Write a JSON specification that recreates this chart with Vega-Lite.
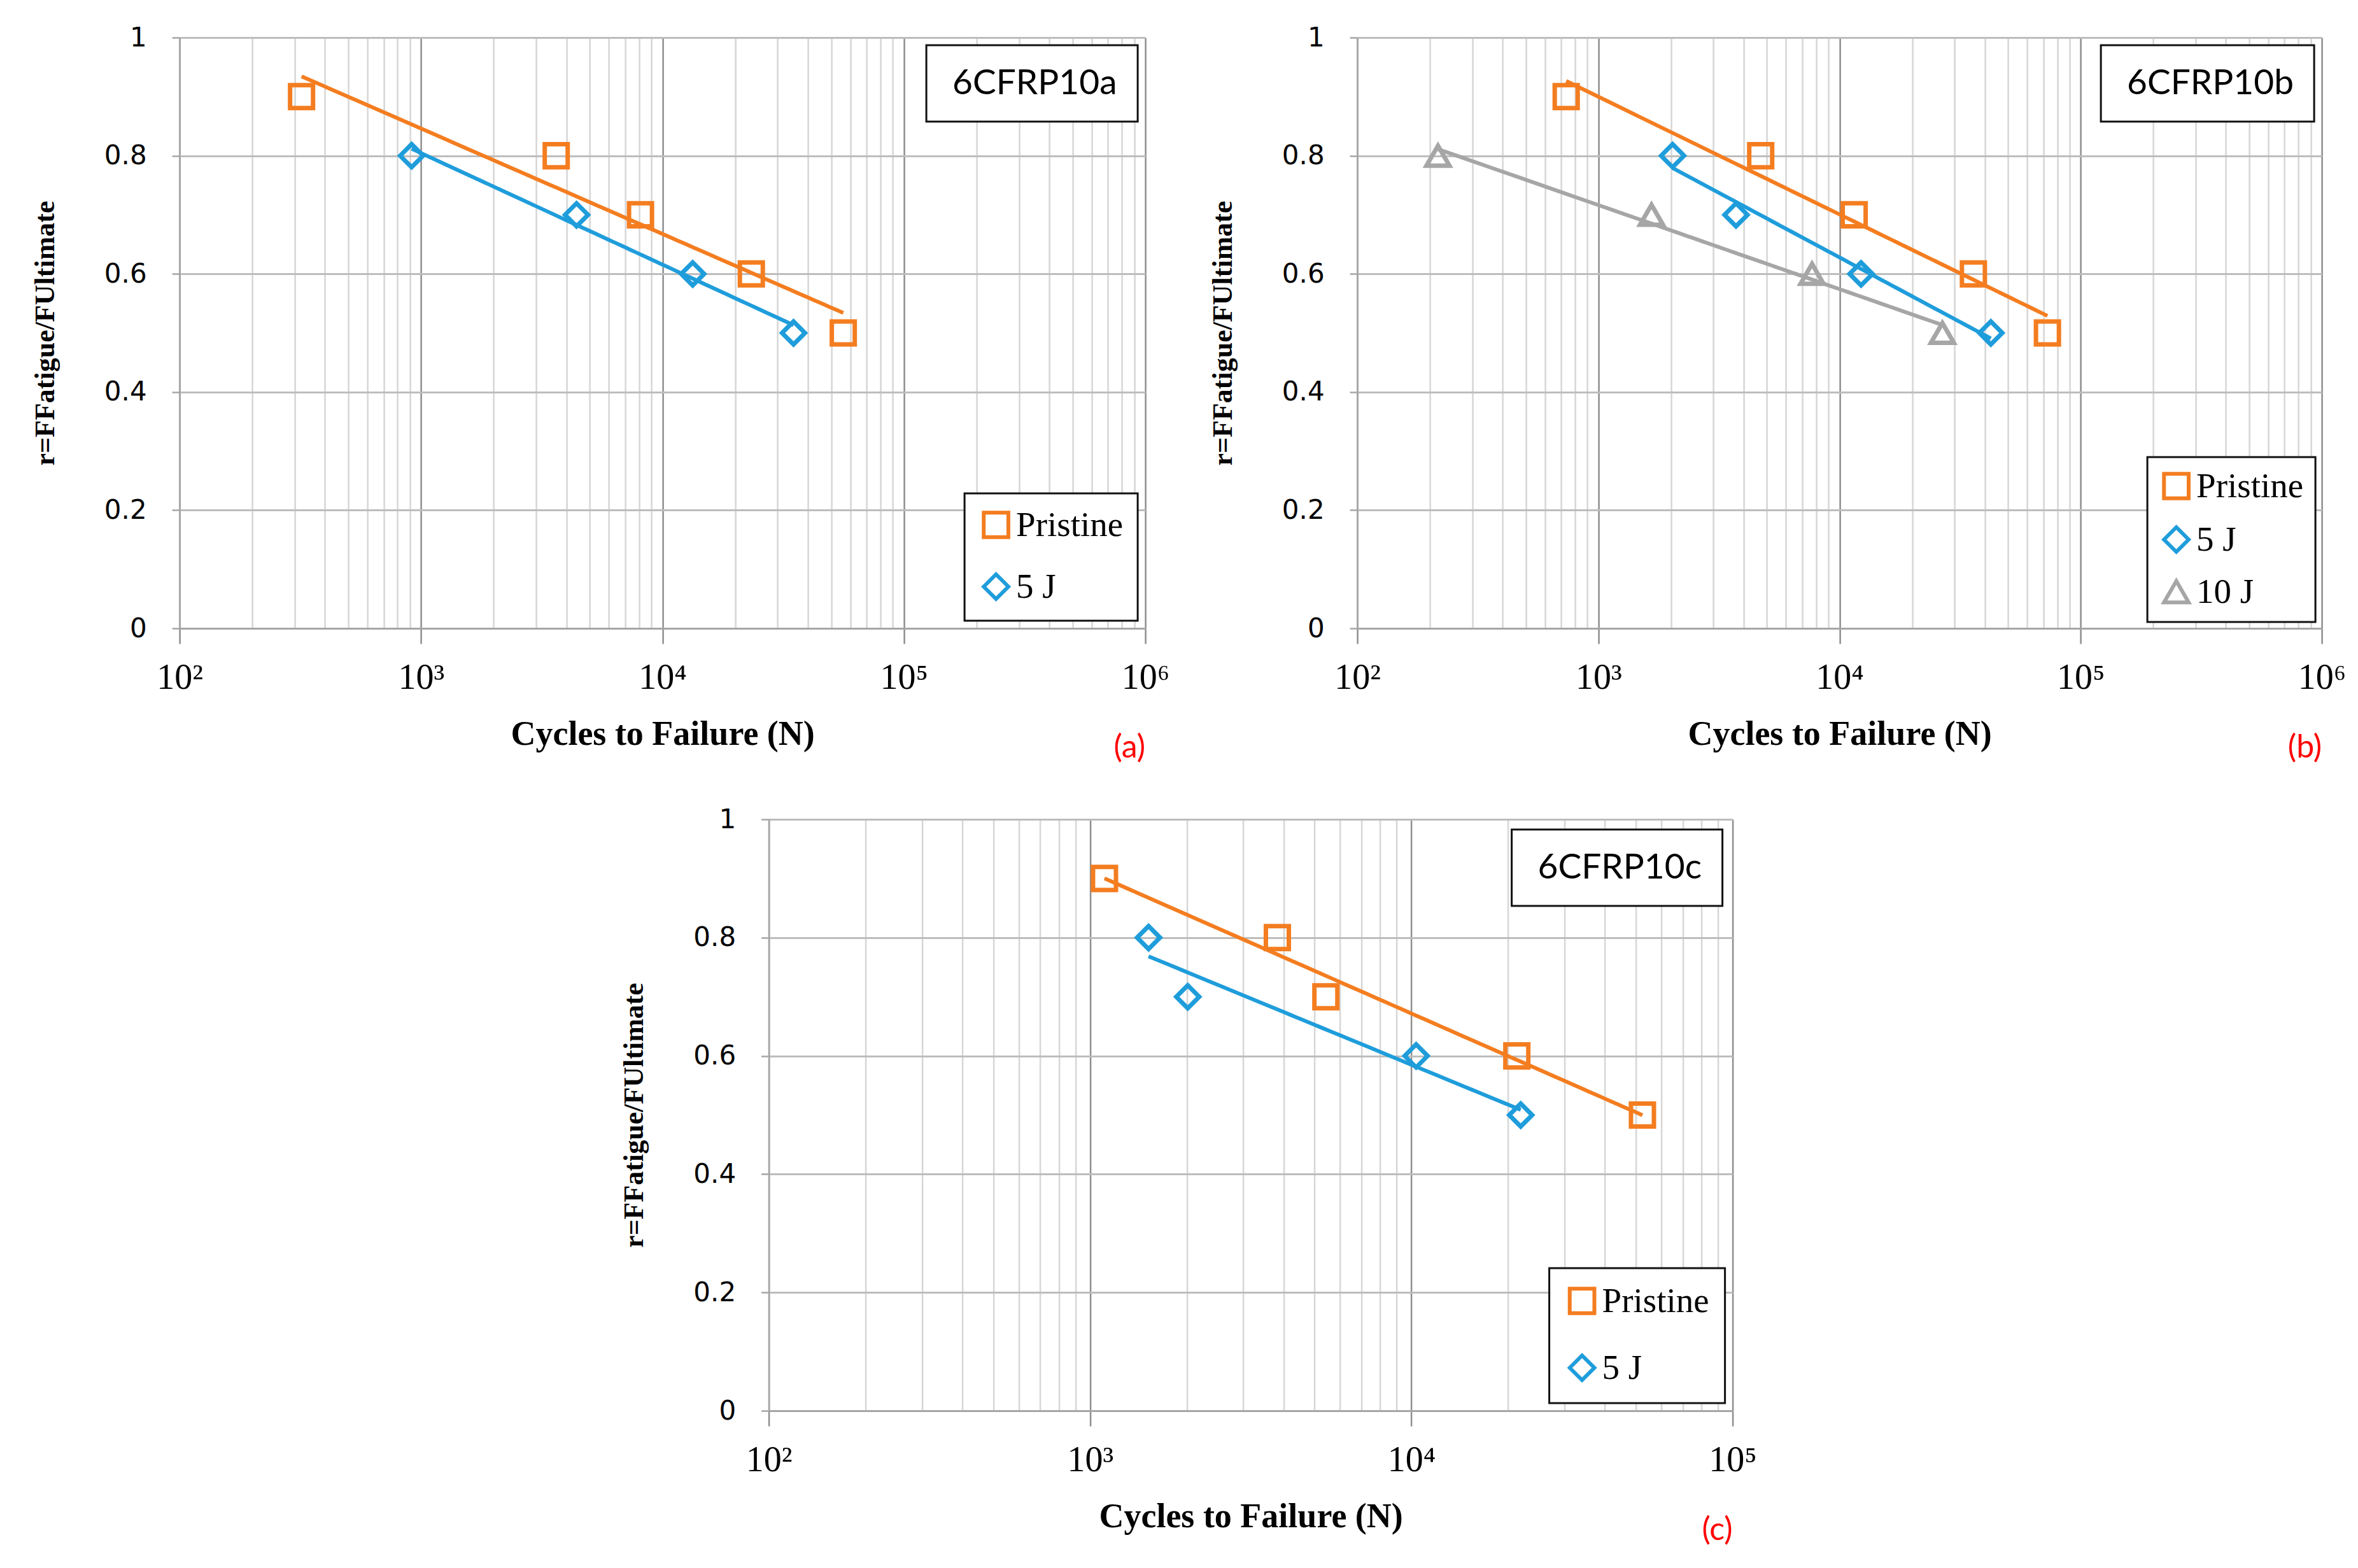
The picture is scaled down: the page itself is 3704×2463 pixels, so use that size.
{
  "$schema": "https://vega.github.io/schema/vega-lite/v6.json",
  "background": "white",
  "padding": {"left": 49, "top": 38, "right": 0, "bottom": 0},
  "datasets": {
    "fatigue": [
      {"panel": "a", "series": "Pristine", "N": 320, "r": 0.9},
      {"panel": "a", "series": "Pristine", "N": 3630, "r": 0.8},
      {"panel": "a", "series": "Pristine", "N": 8110, "r": 0.7},
      {"panel": "a", "series": "Pristine", "N": 23340, "r": 0.6},
      {"panel": "a", "series": "Pristine", "N": 56100, "r": 0.5},
      {"panel": "a", "series": "5 J", "N": 914, "r": 0.8},
      {"panel": "a", "series": "5 J", "N": 4406, "r": 0.7},
      {"panel": "a", "series": "5 J", "N": 13340, "r": 0.6},
      {"panel": "a", "series": "5 J", "N": 34900, "r": 0.5},
      {"panel": "b", "series": "Pristine", "N": 735, "r": 0.9},
      {"panel": "b", "series": "Pristine", "N": 4710, "r": 0.8},
      {"panel": "b", "series": "Pristine", "N": 11500, "r": 0.7},
      {"panel": "b", "series": "Pristine", "N": 35900, "r": 0.6},
      {"panel": "b", "series": "Pristine", "N": 72800, "r": 0.5},
      {"panel": "b", "series": "5 J", "N": 2030, "r": 0.8},
      {"panel": "b", "series": "5 J", "N": 3720, "r": 0.7},
      {"panel": "b", "series": "5 J", "N": 12280, "r": 0.6},
      {"panel": "b", "series": "5 J", "N": 42400, "r": 0.5},
      {"panel": "b", "series": "10 J", "N": 216, "r": 0.8},
      {"panel": "b", "series": "10 J", "N": 1660, "r": 0.7},
      {"panel": "b", "series": "10 J", "N": 7690, "r": 0.6},
      {"panel": "b", "series": "10 J", "N": 26700, "r": 0.5},
      {"panel": "c", "series": "Pristine", "N": 1109, "r": 0.9},
      {"panel": "c", "series": "Pristine", "N": 3828, "r": 0.8},
      {"panel": "c", "series": "Pristine", "N": 5420, "r": 0.7},
      {"panel": "c", "series": "Pristine", "N": 21300, "r": 0.6},
      {"panel": "c", "series": "Pristine", "N": 52400, "r": 0.5},
      {"panel": "c", "series": "5 J", "N": 1521, "r": 0.8},
      {"panel": "c", "series": "5 J", "N": 2014, "r": 0.7},
      {"panel": "c", "series": "5 J", "N": 10350, "r": 0.6},
      {"panel": "c", "series": "5 J", "N": 21900, "r": 0.5}
    ]
  },
  "config": {
    "view": {"stroke": null},
    "axisX": {
      "grid": true,
      "gridWidth": 2.5,
      "tickSize": 24,
      "tickColor": "#8E8E8E",
      "tickWidth": 2.5,
      "domainColor": "#A6A6A6",
      "domainWidth": 3,
      "labelFont": "Liberation Serif",
      "labelFontSize": 56,
      "labelPadding": 26,
      "labelColor": "black",
      "labelOverlap": false,
      "labelFlush": false,
      "titleFont": "Liberation Serif",
      "titleFontSize": 54,
      "titleFontWeight": "bold",
      "titlePadding": 34,
      "titleColor": "black"
    },
    "axisY": {
      "grid": true,
      "gridColor": "#BDBDBD",
      "gridWidth": 3,
      "tickSize": 12,
      "tickColor": "#A6A6A6",
      "tickWidth": 2.5,
      "domainColor": "#A6A6A6",
      "domainWidth": 2.5,
      "labelFont": "DejaVu Sans",
      "labelFontSize": 42,
      "labelPadding": 40,
      "labelColor": "black",
      "titleFont": "Liberation Serif",
      "titleFontSize": 44,
      "titleFontWeight": "bold",
      "titlePadding": 70,
      "titleColor": "black"
    },
    "legend": {
      "title": null,
      "strokeColor": "#111111",
      "strokeWidth": 3,
      "fillColor": "white",
      "labelFont": "Liberation Serif",
      "labelFontSize": 55,
      "labelColor": "black",
      "labelLimit": 800,
      "symbolSize": 1500,
      "symbolStrokeWidth": 6
    },
    "title": {"color": "red", "font": "Lato", "fontSize": 50, "fontWeight": "normal"}
  },
  "resolve": {
    "scale": {"color": "independent", "shape": "independent", "stroke": "independent", "opacity": "independent"},
    "legend": {"color": "independent", "shape": "independent", "opacity": "independent"}
  },
  "vconcat": [
    {
      "resolve": {
        "scale": {"color": "independent", "shape": "independent", "stroke": "independent", "opacity": "independent"},
        "legend": {"color": "independent", "shape": "independent", "opacity": "independent"}
      },
      "hconcat": [
        {
          "width": 1517,
          "height": 928,
          "title": {"text": "(a)", "orient": "bottom", "anchor": "end", "frame": "group", "offset": -30},
          "layer": [
            {
              "data": {"name": "fatigue"},
              "transform": [
                {"filter": "datum.panel === 'a'"},
                {"regression": "r", "on": "N", "groupby": ["series"], "method": "log"}
              ],
              "mark": {"type": "line", "strokeWidth": 6},
              "encoding": {
                "x": {
                  "field": "N", "type": "quantitative",
                  "scale": {"type": "log", "domain": [100, 1000000]},
                  "axis": {
                    "title": "Cycles to Failure (N)",
                    "values": [100, 200, 300, 400, 500, 600, 700, 800, 900, 1000, 2000, 3000, 4000, 5000, 6000, 7000, 8000, 9000, 10000, 20000, 30000, 40000, 50000, 60000, 70000, 80000, 90000, 100000, 200000, 300000, 400000, 500000, 600000, 700000, 800000, 900000, 1000000],
                    "labelExpr": "datum.value === 100 ? '10²' : datum.value === 1000 ? '10³' : datum.value === 10000 ? '10⁴' : datum.value === 100000 ? '10⁵' : datum.value === 1000000 ? '10⁶' : ''",
                    "gridColor": {"condition": {"test": "indexof([100, 1000, 10000, 100000, 1000000], datum.value) >= 0", "value": "#8E8E8E"}, "value": "#D6D6D6"},
                    "tickOpacity": {"condition": {"test": "indexof([100, 1000, 10000, 100000, 1000000], datum.value) >= 0", "value": 1}, "value": 0}
                  }
                },
                "y": {
                  "field": "r", "type": "quantitative",
                  "scale": {"domain": [0, 1]},
                  "axis": {"title": "r=FFatigue/FUltimate", "values": [0, 0.2, 0.4, 0.6, 0.8, 1], "format": "~g"}
                },
                "stroke": {
                  "field": "series", "type": "nominal",
                  "scale": {"domain": ["5 J", "Pristine"], "range": ["#1F9DDB", "#F47D20"]},
                  "legend": null
                }
              }
            },
            {
              "data": {"name": "fatigue"},
              "transform": [{"filter": "datum.panel === 'a'"}],
              "mark": {"type": "point", "filled": false, "strokeWidth": 7, "size": 1300, "opacity": 1},
              "encoding": {
                "x": {"field": "N", "type": "quantitative"},
                "y": {"field": "r", "type": "quantitative"},
                "color": {
                  "field": "series", "type": "nominal",
                  "scale": {"domain": ["Pristine", "5 J"], "range": ["#F47D20", "#1F9DDB"]},
                  "legend": {"orient": "bottom-right", "offset": 12, "padding": 22, "rowPadding": 34, "labelOffset": 4}
                },
                "shape": {
                  "field": "series", "type": "nominal",
                  "scale": {"domain": ["Pristine", "5 J"], "range": ["square", "diamond"]}
                }
              }
            },
            {
              "data": {"values": [{"box": "6CFRP10a"}]},
              "mark": {"type": "point", "size": 0, "opacity": 0},
              "encoding": {
                "opacity": {
                  "field": "box", "type": "nominal",
                  "legend": {"orient": "top-right", "offset": 12, "padding": 32, "symbolSize": 1, "symbolOpacity": 0, "symbolStrokeWidth": 0, "labelOffset": -46, "labelFont": "Lato", "labelFontSize": 55}
                }
              }
            }
          ]
        },
        {
          "width": 1515,
          "height": 928,
          "title": {"text": "(b)", "orient": "bottom", "anchor": "end", "frame": "group", "offset": -30},
          "layer": [
            {
              "data": {"name": "fatigue"},
              "transform": [
                {"filter": "datum.panel === 'b'"},
                {"regression": "r", "on": "N", "groupby": ["series"], "method": "log"}
              ],
              "mark": {"type": "line", "strokeWidth": 6},
              "encoding": {
                "x": {
                  "field": "N", "type": "quantitative",
                  "scale": {"type": "log", "domain": [100, 1000000]},
                  "axis": {
                    "title": "Cycles to Failure (N)",
                    "values": [100, 200, 300, 400, 500, 600, 700, 800, 900, 1000, 2000, 3000, 4000, 5000, 6000, 7000, 8000, 9000, 10000, 20000, 30000, 40000, 50000, 60000, 70000, 80000, 90000, 100000, 200000, 300000, 400000, 500000, 600000, 700000, 800000, 900000, 1000000],
                    "labelExpr": "datum.value === 100 ? '10²' : datum.value === 1000 ? '10³' : datum.value === 10000 ? '10⁴' : datum.value === 100000 ? '10⁵' : datum.value === 1000000 ? '10⁶' : ''",
                    "gridColor": {"condition": {"test": "indexof([100, 1000, 10000, 100000, 1000000], datum.value) >= 0", "value": "#8E8E8E"}, "value": "#D6D6D6"},
                    "tickOpacity": {"condition": {"test": "indexof([100, 1000, 10000, 100000, 1000000], datum.value) >= 0", "value": 1}, "value": 0}
                  }
                },
                "y": {
                  "field": "r", "type": "quantitative",
                  "scale": {"domain": [0, 1]},
                  "axis": {"title": "r=FFatigue/FUltimate", "values": [0, 0.2, 0.4, 0.6, 0.8, 1], "format": "~g"}
                },
                "stroke": {
                  "field": "series", "type": "nominal",
                  "scale": {"domain": ["10 J", "5 J", "Pristine"], "range": ["#A6A6A6", "#1F9DDB", "#F47D20"]},
                  "legend": null
                }
              }
            },
            {
              "data": {"name": "fatigue"},
              "transform": [{"filter": "datum.panel === 'b'"}],
              "mark": {"type": "point", "filled": false, "strokeWidth": 7, "size": 1300, "opacity": 1},
              "encoding": {
                "x": {"field": "N", "type": "quantitative"},
                "y": {"field": "r", "type": "quantitative"},
                "color": {
                  "field": "series", "type": "nominal",
                  "scale": {"domain": ["Pristine", "5 J", "10 J"], "range": ["#F47D20", "#1F9DDB", "#A6A6A6"]},
                  "legend": {"orient": "bottom-right", "offset": 10, "padding": 18, "rowPadding": 21, "labelOffset": 4}
                },
                "shape": {
                  "field": "series", "type": "nominal",
                  "scale": {"domain": ["Pristine", "5 J", "10 J"], "range": ["square", "diamond", "triangle-up"]}
                }
              }
            },
            {
              "data": {"values": [{"box": "6CFRP10b"}]},
              "mark": {"type": "point", "size": 0, "opacity": 0},
              "encoding": {
                "opacity": {
                  "field": "box", "type": "nominal",
                  "legend": {"orient": "top-right", "offset": 12, "padding": 32, "symbolSize": 1, "symbolOpacity": 0, "symbolStrokeWidth": 0, "labelOffset": -46, "labelFont": "Lato", "labelFontSize": 55}
                }
              }
            }
          ]
        }
      ],
      "spacing": 62
    },
    {
      "width": 1514,
      "height": 929,
      "title": {"text": "(c)", "orient": "bottom", "anchor": "end", "frame": "group", "offset": -30},
      "layer": [
        {
          "data": {"name": "fatigue"},
          "transform": [
            {"filter": "datum.panel === 'c'"},
            {"regression": "r", "on": "N", "groupby": ["series"], "method": "log"}
          ],
          "mark": {"type": "line", "strokeWidth": 6},
          "encoding": {
            "x": {
              "field": "N", "type": "quantitative",
              "scale": {"type": "log", "domain": [100, 100000]},
              "axis": {
                "title": "Cycles to Failure (N)",
                "values": [100, 200, 300, 400, 500, 600, 700, 800, 900, 1000, 2000, 3000, 4000, 5000, 6000, 7000, 8000, 9000, 10000, 20000, 30000, 40000, 50000, 60000, 70000, 80000, 90000, 100000],
                "labelExpr": "datum.value === 100 ? '10²' : datum.value === 1000 ? '10³' : datum.value === 10000 ? '10⁴' : datum.value === 100000 ? '10⁵' : ''",
                "gridColor": {"condition": {"test": "indexof([100, 1000, 10000, 100000], datum.value) >= 0", "value": "#8E8E8E"}, "value": "#D6D6D6"},
                "tickOpacity": {"condition": {"test": "indexof([100, 1000, 10000, 100000], datum.value) >= 0", "value": 1}, "value": 0}
              }
            },
            "y": {
              "field": "r", "type": "quantitative",
              "scale": {"domain": [0, 1]},
              "axis": {"title": "r=FFatigue/FUltimate", "values": [0, 0.2, 0.4, 0.6, 0.8, 1], "format": "~g"}
            },
            "stroke": {
              "field": "series", "type": "nominal",
              "scale": {"domain": ["5 J", "Pristine"], "range": ["#1F9DDB", "#F47D20"]},
              "legend": null
            }
          }
        },
        {
          "data": {"name": "fatigue"},
          "transform": [{"filter": "datum.panel === 'c'"}],
          "mark": {"type": "point", "filled": false, "strokeWidth": 7, "size": 1300, "opacity": 1},
          "encoding": {
            "x": {"field": "N", "type": "quantitative"},
            "y": {"field": "r", "type": "quantitative"},
            "color": {
              "field": "series", "type": "nominal",
              "scale": {"domain": ["Pristine", "5 J"], "range": ["#F47D20", "#1F9DDB"]},
              "legend": {"orient": "bottom-right", "offset": 12, "padding": 24, "rowPadding": 42, "labelOffset": 4}
            },
            "shape": {
              "field": "series", "type": "nominal",
              "scale": {"domain": ["Pristine", "5 J"], "range": ["square", "diamond"]}
            }
          }
        },
        {
          "data": {"values": [{"box": "6CFRP10c"}]},
          "mark": {"type": "point", "size": 0, "opacity": 0},
          "encoding": {
            "opacity": {
              "field": "box", "type": "nominal",
              "legend": {"orient": "top-right", "offset": 16, "padding": 32, "symbolSize": 1, "symbolOpacity": 0, "symbolStrokeWidth": 0, "labelOffset": -46, "labelFont": "Lato", "labelFontSize": 55}
            }
          }
        }
      ]
    }
  ],
  "spacing": 66,
  "center": true
}
